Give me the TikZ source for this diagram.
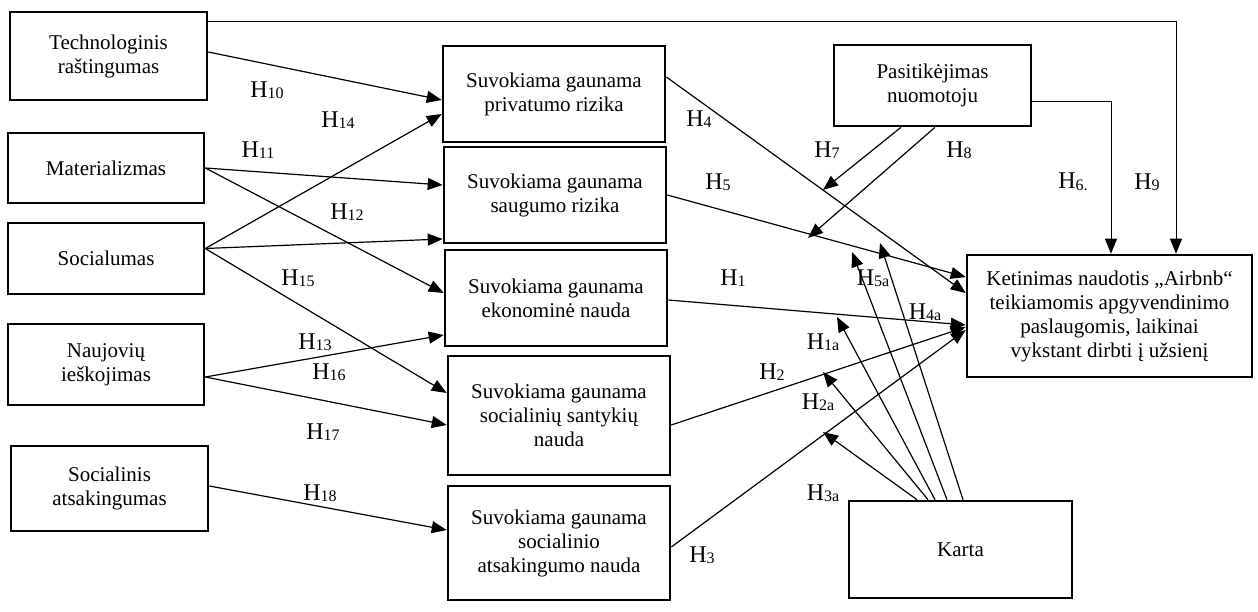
\documentclass[tikz,border=0pt]{standalone}
\usepackage{fontspec}
\setmainfont{Liberation Serif}
\usetikzlibrary{arrows.meta,calc}
\newcommand\hyp[1]{{\fontsize{24}{24}\selectfont H\raisebox{-1.5pt}{\fontsize{16}{16}\selectfont #1}}}
\tikzset{
  box/.style={draw, line width=2.6pt, align=center, inner sep=0pt,
    font=\fontsize{21}{24}\selectfont},
  conn/.style={line width=1.2pt, -{Triangle[length=15pt,width=12pt]}},
  hlab/.style={inner sep=0pt}
}
\begin{document}
\begin{tikzpicture}[x=1pt,y=-1pt]
\useasboundingbox[fill=white] (0,0) rectangle (1258,612);
% left column
\node[box, minimum width=197pt, minimum height=88pt] (tech) at (108.5,56) {Technologinis\\raštingumas};
\node[box, minimum width=196pt, minimum height=70pt] (mat) at (106,168) {Materializmas};
\node[box, minimum width=196pt, minimum height=71pt] (soc) at (106,258.5) {Socialumas};
\node[box, minimum width=196pt, minimum height=81pt] (nauj) at (106,364.5) {Naujovių\\ieškojimas};
\node[box, minimum width=197pt, minimum height=85pt] (socats) at (109.5,488.5) {Socialinis\\atsakingumas};
% middle column
\node[box, minimum width=222pt, minimum height=96pt] (priv) at (554,94) {Suvokiama gaunama\\privatumo rizika};
\node[box, minimum width=222pt, minimum height=96pt] (saug) at (555,195) {Suvokiama gaunama\\saugumo rizika};
\node[box, minimum width=222pt, minimum height=96pt] (ekon) at (556,298) {Suvokiama gaunama\\ekonominė nauda};
\node[box, minimum width=222pt, minimum height=119pt] (sant) at (559,415.5) {Suvokiama gaunama\\socialinių santykių\\nauda};
\node[box, minimum width=222pt, minimum height=114pt] (atsak) at (559,543) {Suvokiama gaunama\\socialinio\\atsakingumo nauda};
% right
\node[box, minimum width=197pt, minimum height=81pt] (pasit) at (932.5,85.5) {Pasitikėjimas\\nuomotoju};
\node[box, minimum width=285pt, minimum height=122pt] (ketin) at (1109.5,316) {Ketinimas naudotis „Airbnb“\\teikiamomis apgyvendinimo\\paslaugomis, laikinai\\vykstant dirbti į užsienį};
\node[box, minimum width=223pt, minimum height=97pt] (karta) at (960.5,549.5) {Karta};
% free ends of moderating arrows
\coordinate (m7) at (823,190);
\coordinate (m8) at (808,238);
\coordinate (m3a) at (823,432);
\coordinate (m2a) at (823,372);
\coordinate (m1a) at (837,317);
\coordinate (m5a) at (852,252);
\coordinate (m4a) at (880,243);
% left arrows
\draw[conn] ([yshift=4pt]tech.east) -- ([yshift=-6pt]priv.west);
\draw[conn] ([yshift=10pt]soc.east) -- ([yshift=-20pt]priv.west);
\draw[conn] (mat.east) -- ([yshift=10pt]saug.west);
\draw[conn] (mat.east) -- ([yshift=5pt]ekon.west);
\draw[conn] ([yshift=10pt]soc.east) -- ([yshift=-44pt]saug.west);
\draw[conn] ([yshift=10pt]soc.east) -- ([yshift=22.5pt]sant.west);
\draw[conn] ([yshift=-12.5pt]nauj.east) -- ([yshift=-37pt]ekon.west);
\draw[conn] ([yshift=-12.5pt]nauj.east) -- ([yshift=-9.5pt]sant.west);
\draw[conn] ([yshift=2.5pt]socats.east) -- ([yshift=13pt]atsak.west);
% middle to outcome
\draw[conn] ([yshift=17pt]priv.east) -- ([yshift=23pt]ketin.west);
\draw[conn] (saug.east) -- ([yshift=39pt]ketin.west);
\draw[conn] ([yshift=-2pt]ekon.east) -- ([yshift=-9pt]ketin.west);
\draw[conn] ([yshift=-9.5pt]sant.east) -- ([yshift=-11pt]ketin.west);
\draw[conn] ([yshift=-4pt]atsak.east) -- ([yshift=-14pt]ketin.west);
% trust
\draw[conn] ([xshift=-31.5pt]pasit.south) -- (m7);
\draw[conn] ([xshift=2.5pt]pasit.south) -- (m8);
\draw[conn, line width=1pt] ([yshift=-16.5pt]pasit.east) -| ([xshift=1.5pt]ketin.north);
\draw[conn, line width=1pt] ([yshift=34pt]tech.east) -| ([xshift=66.5pt]ketin.north);
% generation
\draw[conn] ([xshift=-43.5pt]karta.north) -- (m3a);
\draw[conn] ([xshift=-32.5pt]karta.north) -- (m2a);
\draw[conn] ([xshift=-25.5pt]karta.north) -- (m1a);
\draw[conn] ([xshift=-13.5pt]karta.north) -- (m5a);
\draw[conn] ([xshift=2.5pt]karta.north) -- (m4a);
% labels
\node[hlab] (l10) at (267,90) {\hyp{10}};
\node[hlab] (l14) at (338,120) {\hyp{14}};
\node[hlab] (l11) at (258,150) {\hyp{11}};
\node[hlab] (l12) at (347,212) {\hyp{12}};
\node[hlab] (l15) at (298,278) {\hyp{15}};
\node[hlab] (l13) at (315,342) {\hyp{13}};
\node[hlab] (l16) at (329,372) {\hyp{16}};
\node[hlab] (l17) at (323,432) {\hyp{17}};
\node[hlab] (l18) at (320,493) {\hyp{18}};
\node[hlab] (l4) at (699,119) {\hyp{4}};
\node[hlab] (l7) at (827,150) {\hyp{7}};
\node[hlab] (l5) at (718,182) {\hyp{5}};
\node[hlab] (l1) at (733,278) {\hyp{1}};
\node[hlab] (l8) at (959,150) {\hyp{8}};
\node[hlab] (l6) at (1073,182) {\hyp{6.}};
\node[hlab] (l9) at (1147,182) {\hyp{9}};
\node[hlab] (l5a) at (873,278) {\hyp{5a}};
\node[hlab] (l4a) at (925,312) {\hyp{4a}};
\node[hlab] (l1a) at (823,342) {\hyp{1a}};
\node[hlab] (l2) at (772,372) {\hyp{2}};
\node[hlab] (l2a) at (818,402) {\hyp{2a}};
\node[hlab] (l3a) at (823,493) {\hyp{3a}};
\node[hlab] (l3) at (702,555) {\hyp{3}};
\end{tikzpicture}
\end{document}
